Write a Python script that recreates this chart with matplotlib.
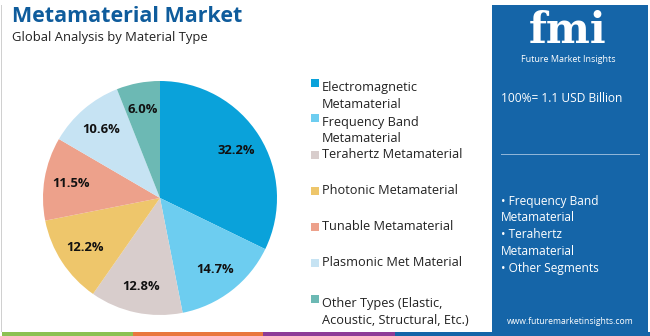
import matplotlib
matplotlib.use("Agg")
import matplotlib.pyplot as plt
from matplotlib.patches import Rectangle

# ==========================================
# Data
# ==========================================
categories = [
    "Electromagnetic\nMetamaterial",
    "Frequency Band\nMetamaterial",
    "Terahertz Metamaterial",
    "Photonic Metamaterial",
    "Tunable Metamaterial",
    "Plasmonic Met Material",
    "Other Types (Elastic,\nAcoustic, Structural, Etc.)",
]
shares = [32.2, 14.7, 12.8, 12.2, 11.5, 10.6, 6.0]
colors = ["#0aa2da", "#6dcdf0", "#d8cdcc", "#eec66b", "#eda18b", "#c6e3f3", "#6cb9b4"]

title = "Metamaterial Market"
subtitle = "Global Analysis by Material Type"
market_size = "100%= 1.1 USD Billion"
highlights = ["• Frequency Band", "Metamaterial", "• Terahertz", "Metamaterial", "• Other Segments"]

W, H = 650, 336
FONT = "Open Sans"


def fx(px):
    return px / W


def fy(py):
    return 1 - py / H


fig = plt.figure(figsize=(6.5, 3.36), dpi=100)
fig.patch.set_facecolor("white")

# left thin border
fig.add_artist(Rectangle((fx(1), fy(332)), 1 / W, 327 / H, transform=fig.transFigure,
                         color="#d0d0d0", lw=0))

# bottom colour strip
strip = [(2, 133, "#8cc152"), (133, 263, "#e9773d"), (263, 395, "#8e3c97"), (395, 650, "#1565a8")]
for x0, x1, c in strip:
    fig.add_artist(Rectangle((fx(x0), 0), (x1 - x0) / W, 4 / H, transform=fig.transFigure,
                             color=c, lw=0))

# right blue panel
fig.add_artist(Rectangle((fx(492), fy(333)), 156 / W, 328 / H, transform=fig.transFigure,
                         color="#1565a8", lw=0))

# titles
fig.text(fx(12), fy(16), title, fontsize=15.5, fontweight="bold", color="#0f5c9c",
         family=FONT, va="center", ha="left")
fig.text(fx(12), fy(38), subtitle, fontsize=9.4, color="#222222", family=FONT,
         va="center", ha="left")

# pie
cx, cy, r = 160, 198, 117
ax = fig.add_axes([fx(cx - r), fy(cy + r), 2 * r / W, 2 * r / H])
wedges, texts, autotexts = ax.pie(
    shares, colors=colors, startangle=90, counterclock=False, radius=1,
    autopct=lambda p: f"{p:.1f}%", pctdistance=0.77,
    wedgeprops=dict(linewidth=0),
    textprops=dict(fontsize=9.4, fontweight="bold", color="#111111", family=FONT),
)
ax.set_xlim(-1, 1)
ax.set_ylim(-1, 1)
ax.set_aspect("equal")
ax.axis("off")

# legend (manual)
rows_y = [83, 118, 155, 191, 227, 263, 299]
for y, lab, c in zip(rows_y, categories, colors):
    fig.add_artist(Rectangle((fx(311), fy(y + 4)), 8 / W, 8 / H, transform=fig.transFigure,
                             color=c, lw=0))
    if "\n" in lab:
        fig.text(fx(322), fy(y - 2), lab, fontsize=9.2, color="#222222", family=FONT,
                 va="top", ha="left", linespacing=1.35)
    else:
        fig.text(fx(322), fy(y), lab, fontsize=9.2, color="#222222", family=FONT,
                 va="center", ha="left")

# right panel content
fig.text(fx(568), fy(31), "fmi", fontsize=30, fontweight="bold", color="white",
         family="DejaVu Serif", va="center", ha="center")
fig.text(fx(568), fy(60), "Future Market Insights", fontsize=6.5, color="white",
         family=FONT, va="center", ha="center")
fig.text(fx(501), fy(98), market_size, fontsize=8.6, color="white", family=FONT,
         va="center", ha="left")
fig.add_artist(Rectangle((fx(501), fy(155)), 139 / W, 1.2 / H, transform=fig.transFigure,
                         color="#8fb5d8", lw=0))
for i, t in enumerate(highlights):
    fig.text(fx(501), fy(201 + i * 16.8), t, fontsize=8.6, color="white", family=FONT,
             va="center", ha="left")
fig.text(fx(570), fy(321), "www.futuremarketinsights.com", fontsize=6.2, color="white",
         family=FONT, va="center", ha="center")

fig.savefig("out.png", dpi=100)
